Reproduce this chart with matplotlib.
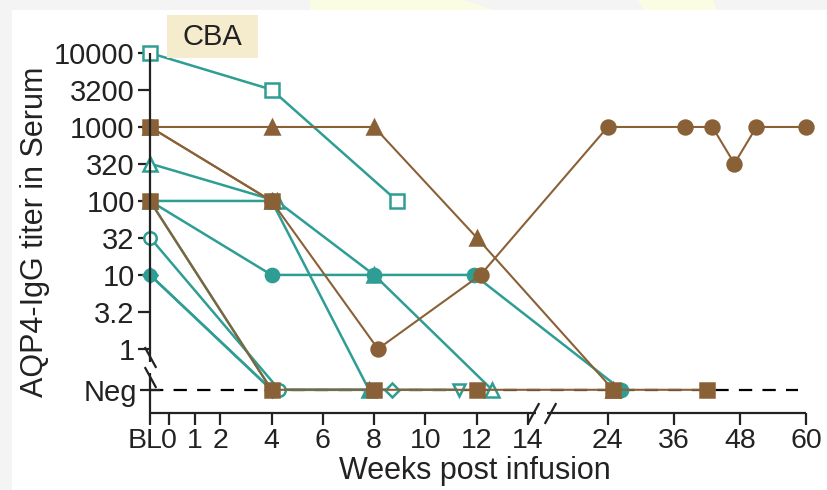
import matplotlib
matplotlib.use("Agg")
import matplotlib.pyplot as plt
import matplotlib.transforms as mtransforms
import numpy as np
from matplotlib.patches import Rectangle, Polygon
from matplotlib.ticker import NullLocator

plt.rcParams.update({
    "font.family": ["Liberation Sans", "DejaVu Sans"],
    "text.color": "#222222",
    "xtick.color": "#222222",
    "ytick.color": "#222222",
})

W, H = 827, 490
TEAL = "#2E9E94"
BROWN = "#8A6137"
INK = "#222222"

# baseline sits a little left of week 0; "Neg" is drawn below the 1 titer
BL = -0.74
NEG = 0.28

x_ticks = [BL, 0, 1, 2, 4, 6, 8, 10, 12, 14, 24, 36, 48, 60]
x_labels = ["BL", "0", "1", "2", "4", "6", "8", "10", "12", "14", "24", "36", "48", "60"]
y_ticks = [10000, 3200, 1000, 320, 100, 32, 10, 3.2, 1]
y_labels = ["10000", "3200", "1000", "320", "100", "32", "10", "3.2", "1"]

# teal patients
t_sq_open_wk = [BL, 4, 8.9]
t_sq_open_ti = [10000, 3200, 100]
t_tri_open_wk = [BL, 4.2, 8, 12.6]
t_tri_open_ti = [320, 100, 10, NEG]
t_circ_a_wk = [BL, 4, 8, 11.9, 26.5]
t_circ_a_ti = [100, 10, 10, 10, NEG]
t_tri_fill_wk = [BL, 4, 7.8]
t_tri_fill_ti = [100, 100, NEG]
t_circ_open_wk = [BL, 4.3]
t_circ_open_ti = [32, NEG]
t_circ_b_wk = [BL, 4]
t_circ_b_ti = [10, NEG]
t_dia_open_wk = [BL, 4, 8.7]
t_dia_open_ti = [10, NEG, NEG]
t_tri_down_wk = [BL, 4, 11.3]
t_tri_down_ti = [100, NEG, NEG]

# brown patients
b_tri_wk = [BL, 4, 8, 12, 25]
b_tri_ti = [1000, 1000, 1000, 32, NEG]
b_circ_wk = [BL, 4, 8.15, 12.15, 24, 38, 43, 47, 51, 60]
b_circ_ti = [1000, 100, 1, 10, 1000, 1000, 1000, 320, 1000, 1000]
b_sq_a_wk = [BL, 4]
b_sq_a_ti = [1000, 100]
b_sq_b_wk = [BL, 4, 8, 12, 25, 42]
b_sq_b_ti = [100, NEG, NEG, NEG, NEG, NEG]


def week_fwd(w):
    w = np.asarray(w, dtype=float)
    return np.where(w <= 14, w,
                    np.where(w <= 24, 14 + (w - 14) * 0.311,
                             17.11 + (w - 24) * 0.2148))


def week_inv(u):
    u = np.asarray(u, dtype=float)
    return np.where(u <= 14, u,
                    np.where(u <= 17.11, 14 + (u - 14) / 0.311,
                             24 + (u - 17.11) / 0.2148))


def px_rect(x0, y0, x1, y1, **kw):
    return Rectangle((x0 / W, 1 - y1 / H), (x1 - x0) / W, (y1 - y0) / H,
                     transform=fig.transFigure, **kw)


fig = plt.figure(figsize=(W / 100, H / 100), dpi=100)
fig.patch.set_facecolor("white")

# screenshot frame: grey strips on the top and left edge
fig.add_artist(px_rect(0, 0, W, 10, color="#F4F4F4", lw=0, zorder=0))
fig.add_artist(px_rect(0, 0, 12, H, color="#F4F4F4", lw=0, zorder=0))
for pts in ([(310, 0), (463, 0), (493, 10), (310, 10)],
            [(638, 0), (713, 0), (717, 10), (643, 10)]):
    fig.add_artist(Polygon([(x / W, 1 - y / H) for x, y in pts], closed=True,
                           transform=fig.transFigure, color="#FAFCE4", lw=0, zorder=0))

ax = fig.add_axes([150 / W, 77 / H, 656 / W, 360 / H])
ax.set_facecolor("none")
ax.set_xscale("function", functions=(week_fwd, week_inv))
ax.set_yscale("log")
ax.set_xlim(BL, 60)
ax.set_ylim(0.136, 10000)

# dashed "Neg" reference line
ax.plot([BL, 58.6], [NEG, NEG], color="black", lw=1.6, dashes=(6, 4.6),
        zorder=1, clip_on=False)


def draw(wk, ti, color, marker, filled=True, lw=1.8, ms=9.5, z=3):
    ax.plot(wk, ti, color=color, lw=lw, marker=marker, ms=ms,
            mfc=color if filled else "white", mec=color, mew=1.8,
            clip_on=False, zorder=z)


draw(t_sq_open_wk, t_sq_open_ti, TEAL, "s", filled=False, ms=9.5)
draw(t_tri_fill_wk, t_tri_fill_ti, TEAL, "^", ms=9.5)
draw(t_tri_down_wk, t_tri_down_ti, TEAL, "v", filled=False, ms=9)
draw(t_dia_open_wk, t_dia_open_ti, TEAL, "D", filled=False, ms=7.5)
draw(t_circ_b_wk, t_circ_b_ti, TEAL, "o", ms=8.5)
draw(t_circ_open_wk, t_circ_open_ti, TEAL, "o", filled=False, ms=9)
draw(t_tri_open_wk, t_tri_open_ti, TEAL, "^", filled=False, ms=9.5)
draw(t_circ_a_wk, t_circ_a_ti, TEAL, "o", ms=9.5)

draw(b_tri_wk, b_tri_ti, BROWN, "^", lw=1.5, ms=9.5, z=4)
draw(b_circ_wk, b_circ_ti, BROWN, "o", lw=1.5, ms=10, z=4)
draw(b_sq_b_wk, b_sq_b_ti, BROWN, "s", lw=1.5, ms=10, z=5)
draw(b_sq_a_wk, b_sq_a_ti, BROWN, "s", lw=1.5, ms=10, z=5)

# axes drawn by hand so both can carry a break
for s in ax.spines.values():
    s.set_visible(False)
yx = ax.get_yaxis_transform()
xx = ax.get_xaxis_transform()
axis_kw = dict(color=INK, lw=1.6, clip_on=False, zorder=6, solid_capstyle="butt")
ax.plot([0, 0], [10000, 0.667], transform=yx, **axis_kw)
ax.plot([0, 0], [0.474, 0.136], transform=yx, **axis_kw)
ax.plot([0, 0], [0.78, 0.42], transform=yx, ls="none",
        marker=[(-0.55, 1), (0.55, -1)], ms=15, mec=INK, mew=1.6,
        clip_on=False, zorder=6)
ax.plot([BL, 14.95], [0, 0], transform=xx, **axis_kw)
ax.plot([16.4, 60], [0, 0], transform=xx, **axis_kw)
ax.plot([14.6, 16.8], [0, 0], transform=xx, ls="none",
        marker=[(-0.55, -1), (0.55, 1)], ms=15, mec=INK, mew=1.6,
        clip_on=False, zorder=6)

ax.set_xticks(x_ticks, x_labels)
ax.xaxis.set_minor_locator(NullLocator())
ax.set_yticks(y_ticks, y_labels)
ax.set_yticks([NEG], ["Neg"], minor=True)
ax.tick_params(axis="y", which="major", direction="out", length=9, width=1.6,
               pad=2, labelsize=21)
ax.tick_params(axis="y", which="minor", direction="inout", length=15, width=1.6,
               pad=2, labelsize=21)
ax.tick_params(axis="x", direction="out", length=8.5, width=1.6, pad=2.5,
               labelsize=20.5)

# "BL" sits tight against "0" in the original; nudge it left
bl_label = ax.get_xticklabels()[0]
bl_label.set_transform(bl_label.get_transform() +
                       mtransforms.ScaledTranslation(-5 / 100, 0, fig.dpi_scale_trans))

fig.text(475 / W, 1 - 471 / H, "Weeks post infusion", fontsize=22,
         ha="center", va="center")
fig.text(35 / W, 1 - 232 / H, "AQP4-IgG titer in Serum", fontsize=22,
         rotation=90, ha="center", va="center")

fig.add_artist(px_rect(167, 15, 258, 58, color="#F5ECCD", lw=0, zorder=2))
fig.text(212 / W, 1 - 37 / H, "CBA", fontsize=21, ha="center", va="center")

fig.savefig("out.png", dpi=100)
